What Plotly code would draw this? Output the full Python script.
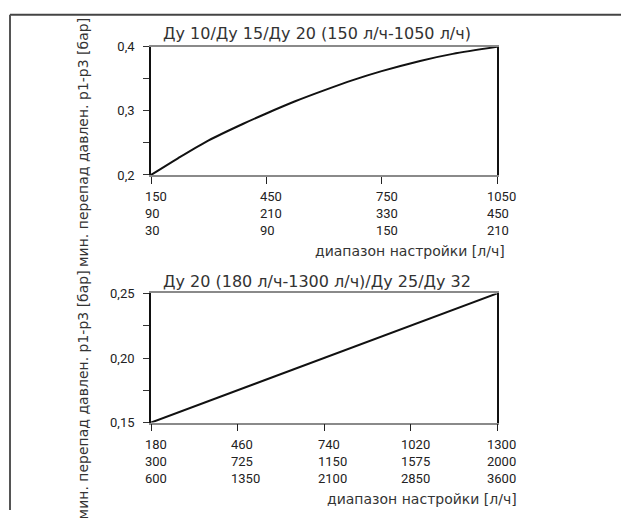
import plotly.graph_objects as go

# ---------------- data ----------------
TITLE1 = "Ду 10/Ду 15/Ду 20 (150 л/ч-1050 л/ч)"
TITLE2 = "Ду 20 (180 л/ч-1300 л/ч)/Ду 25/Ду 32"
Y_TITLE = "мин. перепад давлен. р1-р3 [бар]"
X_TITLE = "диапазон настройки [л/ч]"

# top chart curve
c1_x = [150, 220, 300, 390, 450, 525, 600, 675, 750, 850, 935, 1050]
c1_y = [0.200, 0.226, 0.254, 0.280, 0.296, 0.315, 0.332, 0.348, 0.362, 0.378, 0.389, 0.400]

# bottom chart line
c2_x = [180, 1300]
c2_y = [0.15, 0.25]

# x tick label rows
x1_row1 = [150, 450, 750, 1050]
x1_row2 = [90, 210, 330, 450]
x1_row3 = [30, 90, 150, 210]

x2_row1 = [180, 460, 740, 1020, 1300]
x2_row2 = [300, 725, 1150, 1575, 2000]
x2_row3 = [600, 1350, 2100, 2850, 3600]

y1_ticks = [0.2, 0.3, 0.4]
y1_labels = ["0,2", "0,3", "0,4"]
y1_minor = [0.25, 0.35]
y2_ticks = [0.15, 0.20, 0.25]
y2_labels = ["0,15", "0,20", "0,25"]
y2_minor = [0.175, 0.225]

# ---------------- layout ----------------
W, H = 621, 518
TXT_FONT = "DejaVu Sans"
NUM_FONT = "Roboto"
TXT_COLOR = "#333"


def px_x(p):
    return p / W


def px_y(p):
    return 1 - p / H


fig = go.Figure()
fig.add_trace(go.Scatter(x=c1_x, y=c1_y, mode="lines",
                         line=dict(color="#111", width=2, shape="spline", smoothing=0.8),
                         xaxis="x", yaxis="y", showlegend=False, hoverinfo="skip"))
fig.add_trace(go.Scatter(x=c2_x, y=c2_y, mode="lines", line=dict(color="#111", width=2),
                         xaxis="x2", yaxis="y2", showlegend=False, hoverinfo="skip"))

xdom = [px_x(151), px_x(497)]
common_x = dict(showline=True, linecolor="#8a8a8a", linewidth=1.5, mirror=True, ticks="outside",
                ticklen=7, tickcolor="#222", tickwidth=1.2, showticklabels=False, showgrid=False,
                zeroline=False, fixedrange=True)
common_y = dict(showline=True, linecolor="#111", linewidth=1.8, mirror=True, ticks="outside",
                ticklen=6, tickcolor="#333", tickwidth=1, showgrid=False, zeroline=False,
                tickfont=dict(family=NUM_FONT, size=13, color="#222"), ticklabelstandoff=6,
                fixedrange=True)
minor_style = dict(ticks="outside", ticklen=6, tickcolor="#333", tickwidth=1, showgrid=False)

fig.update_layout(
    width=W, height=H,
    margin=dict(l=0, r=0, t=0, b=0),
    paper_bgcolor="white", plot_bgcolor="white",
    xaxis=dict(domain=xdom, anchor="y", range=[c1_x[0], c1_x[-1]], tickvals=x1_row1, **common_x),
    yaxis=dict(domain=[px_y(173), px_y(41)], anchor="x", range=[y1_ticks[0], y1_ticks[-1]],
               tickvals=y1_ticks, ticktext=y1_labels,
               minor=dict(tickmode="array", tickvals=y1_minor, **minor_style), **common_y),
    xaxis2=dict(domain=xdom, anchor="y2", range=[c2_x[0], c2_x[-1]], tickvals=x2_row1, **common_x),
    yaxis2=dict(domain=[px_y(428), px_y(295)], anchor="x2", range=[y2_ticks[0], y2_ticks[-1]],
                tickvals=y2_ticks, ticktext=y2_labels,
                minor=dict(tickmode="array", tickvals=y2_minor, **minor_style), **common_y),
)

ann = []
# x tick label blocks
for xr, yr, r1, r2, r3 in [("x", "y", x1_row1, x1_row2, x1_row3), ("x2", "y2", x2_row1, x2_row2, x2_row3)]:
    for a, b, c in zip(r1, r2, r3):
        ann.append(dict(xref=xr, yref=f"{yr} domain", x=a, y=0, xanchor="left", yanchor="top",
                        align="left", xshift=3 - 3.7 * len(str(a)), yshift=-12, showarrow=False,
                        text=f"{a}<br>{b}<br>{c}", font=dict(family=NUM_FONT, size=13, color="#222")))
    # x axis title
    ann.append(dict(xref=f"{xr} domain", yref=f"{yr} domain", x=1, y=0, xanchor="right", yanchor="top",
                    xshift=10 if xr == "x" else 22, yshift=-66, showarrow=False, text=X_TITLE,
                    font=dict(family=TXT_FONT, size=14, color=TXT_COLOR)))

# titles
ann.append(dict(xref="x domain", yref="y domain", x=0, y=1, xanchor="left", yanchor="bottom", xshift=10,
                yshift=2, showarrow=False, text=TITLE1, font=dict(family=TXT_FONT, size=16, color=TXT_COLOR)))
ann.append(dict(xref="x2 domain", yref="y2 domain", x=0, y=1, xanchor="left", yanchor="bottom", xshift=10,
                yshift=0, showarrow=False, text=TITLE2, font=dict(family=TXT_FONT, size=16, color=TXT_COLOR)))

# y titles
for yc in (140, 400):
    ann.append(dict(xref="paper", yref="paper", x=px_x(83), y=px_y(yc), xanchor="center", yanchor="middle",
                    textangle=-90, showarrow=False, text=Y_TITLE,
                    font=dict(family=TXT_FONT, size=14, color=TXT_COLOR)))

fig.update_layout(annotations=ann)

# outer frame (top and left)
fig.add_shape(type="line", xref="paper", yref="paper", x0=px_x(10), x1=1, y0=px_y(8), y1=px_y(8),
              line=dict(color="#444", width=2))
fig.add_shape(type="line", xref="paper", yref="paper", x0=px_x(10), x1=px_x(10), y0=px_y(8), y1=0,
              line=dict(color="#555", width=2))

fig.write_html("out.html", config={"displayModeBar": False},
               post_script="document.body.style.margin='0';document.body.style.overflow='hidden';")
